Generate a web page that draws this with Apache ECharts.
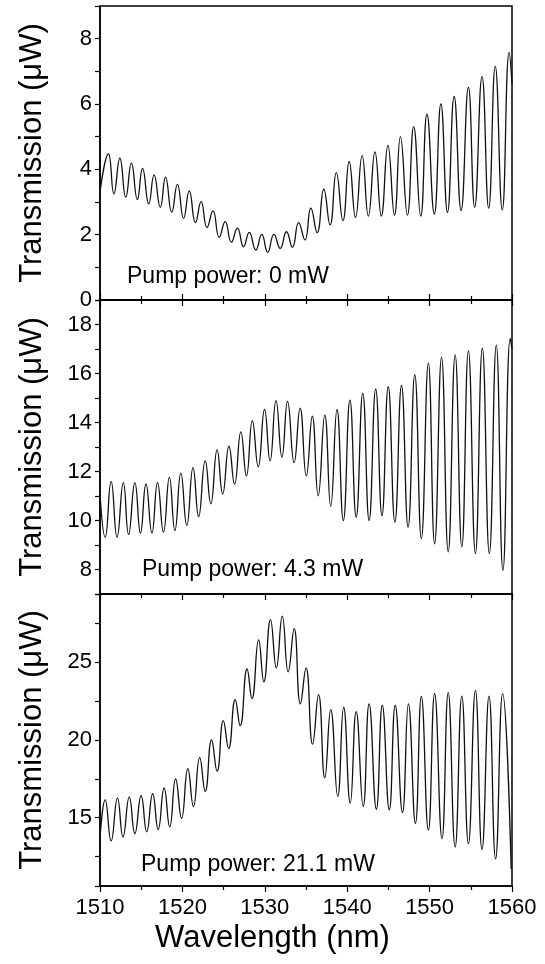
<!DOCTYPE html>
<html>
<head>
<meta charset="utf-8">
<script src="https://cdn.jsdelivr.net/npm/echarts@6/dist/echarts.min.js"></script>
<style>
html,body{margin:0;padding:0;background:#fff;}
#c{width:545px;height:964px;}
</style>
</head>
<body>
<div id="c"></div>
<script>
// Extrema (peaks and troughs), wavelength in nm
const wl1 = [1510.00,1511.02,1511.69,1512.41,1513.13,1513.81,1514.53,1515.16,1515.92,1516.56,1517.32,1517.95,1518.71,1519.39,1520.15,1520.83,1521.59,1522.27,1522.99,1523.71,1524.47,1525.19,1525.95,1526.67,1527.43,1528.11,1528.91,1529.63,1530.35,1531.11,1531.87,1532.63,1533.35,1534.11,1534.87,1535.59,1536.35,1537.16,1537.92,1538.68,1539.48,1540.24,1541.01,1541.81,1542.57,1543.37,1544.14,1544.94,1545.74,1546.46,1547.31,1548.07,1548.92,1549.68,1550.57,1551.37,1552.17,1552.98,1553.82,1554.71,1555.47,1556.36,1557.17,1557.97,1558.82,1559.66,1560.00];
const tr1 = [3.30,4.47,3.25,4.34,3.15,4.19,3.08,4.03,2.94,3.83,2.84,3.76,2.69,3.54,2.50,3.34,2.37,3.01,2.22,2.73,1.92,2.40,1.77,2.20,1.63,2.07,1.53,2.01,1.46,2.01,1.58,2.09,1.61,2.37,1.84,2.81,2.06,3.39,2.30,3.90,2.43,4.24,2.53,4.42,2.57,4.53,2.57,4.73,2.60,5.00,2.60,5.31,2.57,5.69,2.63,6.00,2.68,6.23,2.74,6.51,2.84,6.84,2.81,7.15,2.76,7.58,6.60];

const wl2 = [1510.00,1510.63,1511.35,1512.07,1512.83,1513.47,1514.23,1514.91,1515.58,1516.30,1516.98,1517.70,1518.42,1519.09,1519.81,1520.53,1521.29,1521.97,1522.77,1523.45,1524.21,1524.89,1525.65,1526.33,1527.09,1527.77,1528.49,1529.20,1529.97,1530.64,1531.36,1532.08,1532.76,1533.56,1534.28,1535.04,1535.76,1536.48,1537.28,1538.00,1538.76,1539.53,1540.33,1541.09,1541.89,1542.66,1543.46,1544.22,1544.98,1545.79,1546.59,1547.39,1548.20,1549.00,1549.85,1550.61,1551.45,1552.26,1553.10,1553.91,1554.71,1555.56,1556.40,1557.25,1558.09,1558.90,1559.79,1560.00];
const tr2 = [11.10,9.32,11.60,9.32,11.55,9.43,11.55,9.49,11.49,9.49,11.55,9.53,11.76,9.59,11.93,9.80,12.16,10.16,12.43,10.68,12.88,11.08,13.03,11.49,13.62,11.82,14.08,12.19,14.53,12.43,14.89,12.59,14.86,12.36,14.59,11.82,14.26,11.01,14.30,10.57,14.53,10.00,14.91,10.14,15.19,10.00,15.36,10.20,15.46,9.93,15.51,9.73,15.95,9.26,16.42,9.05,16.66,8.72,16.76,8.92,16.92,8.65,17.03,8.65,17.16,7.97,17.43,17.00];

const wl3 = [1510.00,1510.63,1511.35,1512.12,1512.79,1513.55,1514.23,1514.99,1515.67,1516.39,1517.06,1517.78,1518.46,1519.18,1519.90,1520.66,1521.34,1522.10,1522.77,1523.54,1524.21,1524.97,1525.61,1526.41,1527.01,1527.85,1528.44,1529.25,1529.88,1530.69,1531.40,1532.12,1532.84,1533.56,1534.32,1535.00,1535.80,1536.52,1537.28,1538.00,1538.85,1539.57,1540.37,1541.09,1541.94,1542.66,1543.54,1544.26,1545.11,1545.83,1546.71,1547.43,1548.28,1549.00,1549.85,1550.61,1551.50,1552.26,1553.10,1553.91,1554.71,1555.56,1556.36,1557.21,1558.01,1558.86,1559.90];
const tr3 = [13.65,16.15,13.50,16.26,13.76,16.32,13.98,16.41,14.09,16.54,14.24,16.91,14.41,17.49,14.96,18.15,15.72,18.86,16.69,20.01,17.99,21.25,19.45,22.59,20.92,24.57,22.66,26.45,23.74,27.75,24.65,27.97,24.39,27.17,22.33,24.65,19.73,22.92,17.56,21.96,16.37,22.11,15.93,21.83,15.72,22.33,15.54,22.22,15.50,22.22,15.33,22.33,14.63,22.81,14.20,22.98,13.65,23.05,13.11,22.83,13.33,23.20,12.94,22.83,12.35,22.98,11.70];

const pumpLabels = ['Pump power: 0 mW', 'Pump power: 4.3 mW', 'Pump power: 21.1 mW'];
const yTitle = 'Transmission (\u03bcW)';
const xTitle = 'Wavelength (nm)';

const FONT = '"Liberation Sans", Arial, sans-serif';
const pairs = (xs, ys) => xs.map((x, i) => [x, ys[i]]);

const chart = echarts.init(document.getElementById('c'), null, {renderer: 'canvas'});

const grids = [
  {left: 100, right: 33, top: 6, height: 294},
  {left: 100, right: 33, top: 300, height: 294},
  {left: 100, right: 33, top: 594, height: 292}
];

function xAx(gi, showLabels, pos) {
  return {
    type: 'value', gridIndex: gi, min: 1510, max: 1560, interval: 10,
    position: pos || 'bottom',
    axisLine: {show: true, onZero: false, lineStyle: {color: '#000', width: 1.5}},
    axisTick: {show: true, inside: false, length: 6, lineStyle: {color: '#000', width: 1.2}},
    minorTick: {show: true, splitNumber: 2, length: 4, lineStyle: {color: '#000', width: 1.2}},
    splitLine: {show: false},
    axisLabel: {show: showLabels, color: '#000', fontSize: 22, fontFamily: FONT, margin: 11, formatter: v => String(v)}
  };
}

function yAx(gi, min, max, opts, fmt) {
  return Object.assign({
    type: 'value', gridIndex: gi, min: min, max: max,
    name: yTitle, nameLocation: 'middle', nameRotate: 90, nameGap: 52,
    nameTextStyle: {color: '#000', fontSize: 31, fontFamily: FONT},
    axisLine: {show: true, lineStyle: {color: '#000', width: 1.5}},
    axisTick: {show: true, inside: false, length: 5, lineStyle: {color: '#000', width: 1.2}},
    splitLine: {show: false},
    axisLabel: {color: '#000', fontSize: 22, fontFamily: FONT, margin: 8, formatter: fmt}
  }, opts);
}

const evenFmt = v => (Math.abs(v % 2) < 1e-6 ? String(v) : '');
const fiveFmt = v => (Math.abs(v % 5) < 1e-6 ? String(v) : '');

const lineStyle = {color: '#111', width: 1.3};

chart.setOption({
  animation: false,
  backgroundColor: '#fff',
  grid: grids.map(g => Object.assign({show: true, borderColor: '#000', borderWidth: 1.5, backgroundColor: 'transparent'}, g)),
  xAxis: [
    xAx(0, false),
    xAx(1, false),
    xAx(2, true),
    xAx(1, false, 'top')
  ],
  yAxis: [
    yAx(0, 0, 9, {interval: 1}, evenFmt),
    yAx(1, 7, 19, {interval: 1}, evenFmt),
    yAx(2, 10.6, 29.4, {splitNumber: 4, minorTick: {show: true, splitNumber: 2, length: 5, lineStyle: {color: '#000', width: 1.2}}}, fiveFmt)
  ],
  series: [
    {type: 'line', xAxisIndex: 0, yAxisIndex: 0, data: pairs(wl1, tr1), showSymbol: false, smooth: 0.5, lineStyle: lineStyle, clip: true},
    {type: 'line', xAxisIndex: 1, yAxisIndex: 1, data: pairs(wl2, tr2), showSymbol: false, smooth: 0.5, lineStyle: lineStyle, clip: true},
    {type: 'line', xAxisIndex: 2, yAxisIndex: 2, data: pairs(wl3, tr3), showSymbol: false, smooth: 0.5, lineStyle: lineStyle, clip: true}
  ],
  graphic: [
    {type: 'text', left: 127, top: 265, style: {text: pumpLabels[0], fill: '#000', font: '23px ' + FONT}},
    {type: 'text', left: 142, top: 558, style: {text: pumpLabels[1], fill: '#000', font: '23px ' + FONT}},
    {type: 'text', left: 141, top: 853, style: {text: pumpLabels[2], fill: '#000', font: '23px ' + FONT}},
    {type: 'text', left: 'center', top: 923, style: {text: xTitle, fill: '#000', font: '31px ' + FONT}}
  ]
});
</script>
</body>
</html>
